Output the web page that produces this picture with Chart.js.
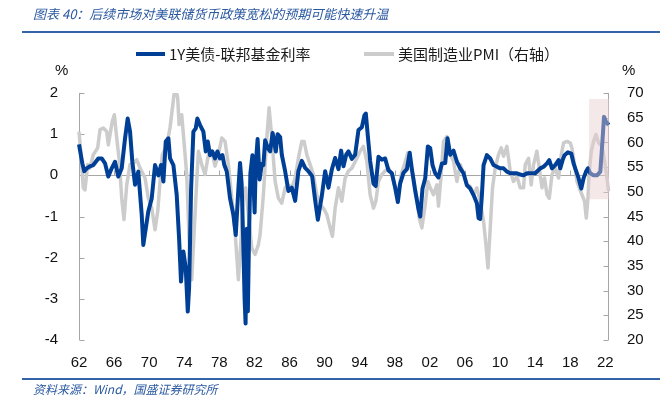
<!DOCTYPE html>
<html>
<head>
<meta charset="utf-8">
<script src="https://cdn.jsdelivr.net/npm/chart.js@4/dist/chart.umd.min.js"></script>
<style>
  html,body{margin:0;padding:0;background:#fff;}
  #wrap{position:relative;width:660px;height:398px;overflow:hidden;}
  canvas{position:absolute;left:0;top:0;}
  .t{position:absolute;white-space:nowrap;font-family:"Noto Sans CJK SC","Noto Sans",sans-serif;}
  #title{left:33px;top:4px;font-size:13px;font-style:italic;color:#2b59a0;}
  #src{left:33px;top:380px;font-size:12px;font-style:italic;color:#2b59a0;}
  .hr{position:absolute;left:22px;width:638px;height:2px;background:#3563a8;}
  .leg{top:43px;font-size:15px;color:#1a1a1a;}
  .sw{position:absolute;height:4px;}
  .pct{font-family:"Liberation Sans",Arial,sans-serif;font-size:15px;color:#111;top:61px;}
</style>
</head>
<body>
<div id="wrap">
  <canvas id="c" width="660" height="398"></canvas>
  <div class="t" id="title">图表 40：后续市场对美联储货币政策宽松的预期可能快速升温</div>
  <div class="hr" style="top:31px"></div>
  <div class="sw" style="left:136px;top:52px;width:29px;background:#003f96"></div>
  <div class="t leg" style="left:169px">1Y美债-联邦基金利率</div>
  <div class="sw" style="left:364px;top:52px;width:30px;background:#cccccc"></div>
  <div class="t leg" style="left:398px">美国制造业PMI（右轴）</div>
  <div class="t pct" style="left:55px">%</div>
  <div class="t pct" style="left:622px">%</div>
  <div class="hr" style="top:378px"></div>
  <div class="t" id="src">资料来源：Wind，国盛证券研究所</div>
</div>
<script>
// ---- data (decimal years) ----
const spreadDates = [
  1962.00,1962.38,1962.60,1962.88,1963.25,1963.63,1964.20,1964.59,1964.97,1965.34,1965.73,1966.11,1966.48,1966.87,1967.25,1967.55,1967.82,1968.08,1968.39,1968.76,1969.15,1969.33,1969.61,1969.90,
  1970.29,1970.67,1971.05,1971.35,1971.62,1971.89,1972.19,1972.38,1972.76,1973.14,1973.41,1973.63,1973.90,1974.17,1974.40,1974.55,1974.78,1975.04,1975.31,1975.49,1975.80,1976.18,1976.45,1976.68,1976.94,1977.20,1977.51,1977.78,1978.08,1978.35,1978.57,1978.85,1979.22,1979.60,1979.87,
  1980.17,1980.36,1980.54,1980.71,1980.88,1980.99,1981.13,1981.25,1981.39,1981.54,1981.77,1982.02,1982.15,1982.36,1982.59,1982.84,1983.02,1983.22,1983.56,1983.79,1984.07,1984.44,1984.64,1984.93,1985.12,1985.50,1985.87,1986.26,1986.64,1987.01,1987.40,1987.78,1988.15,1988.58,1988.92,1989.23,1989.68,
  1990.06,1990.44,1990.82,1991.20,1991.58,1991.88,1992.15,1992.46,1992.72,1993.11,1993.48,1993.86,1994.25,1994.54,1994.70,1994.93,1995.19,1995.57,1995.82,1996.14,1996.53,1996.90,1997.28,1997.67,1998.04,1998.35,1998.61,1998.99,1999.38,1999.70,1999.95,
  2000.33,2000.70,2000.90,2001.16,2001.47,2001.77,2002.04,2002.30,2002.61,2002.98,2003.37,2003.75,2004.01,2004.32,2004.69,2005.08,2005.46,2005.83,2006.22,2006.60,2006.98,2007.36,2007.55,2007.74,2007.93,2008.12,2008.50,2008.88,2009.26,2009.64,
  2010.02,2010.40,2010.78,2011.16,2011.93,2012.30,2012.68,2013.07,2013.44,2014.01,2014.58,2014.96,2015.35,2015.61,2015.92,2016.29,2016.67,2016.86,2017.13,2017.35,2017.74,2018.12,2018.38,2018.57,2018.95,2019.26,2019.52,2019.80,
  2020.02,2020.29,2020.66,2021.05,2021.43,2021.62,2021.85,2022.08,2022.38
];
const spreadValues = [
  0.75,0.29,0.10,0.17,0.22,0.25,0.41,0.41,0.29,-0.03,0.17,0.33,-0.03,0.17,0.90,1.38,1.06,0.33,-0.23,0.09,-0.96,-1.69,-1.29,-0.88,
  -0.56,0.25,0.00,0.25,-0.15,0.82,0.90,0.41,0.25,-0.48,-1.53,-2.58,-1.85,-2.26,-3.31,-2.74,-0.32,1.06,1.14,1.38,1.22,1.06,0.58,0.82,0.49,0.58,0.41,0.58,0.41,0.49,0.25,0.09,-0.56,-0.96,-1.45,
  -0.32,0.30,-0.20,-1.50,-3.00,-3.60,-1.30,-3.30,-1.40,0.05,0.49,-0.90,0.25,0.88,-0.10,0.28,0.25,0.85,0.65,0.58,1.03,0.58,1.00,0.93,0.50,0.10,-0.38,-0.30,-0.62,0.10,0.35,0.18,0.10,-0.02,-0.60,-1.08,-0.50,
  0.10,-0.30,0.14,0.42,0.15,0.60,0.22,0.50,0.58,0.40,0.50,1.10,1.17,1.46,1.50,0.95,0.35,-0.20,-0.26,0.45,0.38,0.41,0.12,0.05,-0.30,-0.65,-0.20,0.06,0.15,0.55,0.15,
  -0.38,-0.82,-1.00,-0.32,-0.07,0.70,0.66,0.25,0.05,-0.05,0.29,0.30,0.90,0.50,0.60,0.33,0.17,0.05,-0.24,-0.32,-0.48,-0.68,-1.04,-1.06,-0.48,0.25,0.49,0.41,0.25,0.21,
  0.17,0.17,0.09,0.05,0.05,0.02,0.00,0.05,0.05,0.05,0.17,0.21,0.29,0.37,0.17,0.25,0.37,0.17,0.37,0.49,0.56,0.53,0.29,0.17,-0.07,-0.32,-0.07,0.09,
  0.17,0.05,0.00,0.00,0.09,0.66,1.42,1.30,1.22
];
const pmiDates = [
  1962.00,1962.23,1962.49,1962.68,1962.99,1963.25,1963.63,1964.13,1964.40,1964.77,1965.16,1965.34,1965.80,1966.03,1966.30,1966.60,1966.87,1967.13,1967.44,1967.82,1968.19,1968.58,1968.96,1969.53,1969.90,
  1970.29,1970.67,1970.98,1971.24,1971.50,1971.89,1972.19,1972.38,1972.76,1972.95,1973.25,1973.41,1973.71,1973.90,1974.28,1974.55,1974.85,1975.15,1975.42,1975.61,1975.99,1976.37,1976.75,1977.14,1977.51,1977.89,1978.28,1978.65,1979.03,1979.42,1979.79,
  1980.17,1980.48,1980.74,1981.01,1981.31,1981.70,1982.07,1982.45,1982.64,1983.02,1983.41,1983.67,1983.98,1984.36,1984.73,1985.12,1985.50,1985.87,1986.26,1986.64,1987.01,1987.40,1987.66,1987.97,1988.35,1988.72,1989.11,1989.49,1989.86,
  1990.25,1990.63,1990.89,1991.20,1991.58,1991.96,1992.34,1992.72,1993.11,1993.68,1994.05,1994.43,1994.81,1995.19,1995.57,1995.84,1996.14,1996.53,1996.90,1997.28,1997.67,1998.04,1998.35,1998.73,1999.10,1999.49,1999.75,
  2000.13,2000.52,2000.78,2001.09,2001.47,2001.77,2002.04,2002.41,2002.80,2002.98,2003.29,2003.55,2003.94,2004.32,2004.69,2005.08,2005.46,2005.83,2006.22,2006.60,2006.98,2007.36,2007.74,2008.12,2008.39,2008.62,2008.88,2009.14,2009.45,2009.82,
  2010.13,2010.40,2010.78,2011.16,2011.53,2011.93,2012.30,2012.68,2012.87,2013.25,2013.55,2013.82,2014.20,2014.47,2014.78,2015.07,2015.35,2015.61,2015.92,2016.29,2016.67,2016.98,2017.24,2017.63,2018.00,2018.19,2018.49,2018.77,2019.03,2019.34,2019.63,2019.83,
  2020.02,2020.17,2020.40,2020.66,2020.93,2021.23,2021.62,2021.92,2022.19,2022.37
];
const pmiValues = [
  62.2,57.5,50.8,50.4,55.5,54.8,57.5,58.9,62.6,62.9,62.2,59.5,64.3,65.6,60.9,56.2,48.7,44.4,51.4,55.5,55.8,56.5,54.8,52.8,48.7,
  46.7,42.3,46.1,52.1,57.5,58.9,61.2,63.0,68.6,71.5,69.0,63.6,65.6,61.6,53.5,40.6,32.2,42.7,52.1,58.2,55.5,53.5,57.5,58.2,55.2,57.5,60.9,60.2,55.5,48.7,42.0,
  32.2,40.6,49.4,50.8,45.4,38.6,37.3,39.3,41.3,49.4,60.9,67.0,60.9,52.1,48.7,47.7,50.8,51.4,50.8,52.8,56.8,60.2,60.2,57.5,55.5,53.5,49.4,47.4,46.7,
  45.4,42.7,41.0,46.7,50.8,48.1,52.8,54.2,54.8,56.8,58.2,59.2,56.2,49.4,46.7,48.1,52.1,53.5,54.2,54.8,53.5,50.8,49.4,53.5,55.5,57.9,56.2,
  52.8,48.7,44.7,42.7,47.4,52.1,50.8,49.4,51.4,47.1,53.5,60.2,61.2,57.5,56.2,52.1,55.5,53.8,51.4,51.1,49.4,50.8,48.1,44.0,39.3,34.6,42.7,50.8,54.8,57.5,
  58.9,57.2,59.2,54.2,52.1,53.1,50.8,50.8,55.5,56.8,51.4,55.5,58.2,54.8,50.8,52.8,49.4,48.7,53.5,54.8,52.8,57.5,59.9,60.2,59.9,58.9,55.5,52.1,50.8,49.4,48.1,44.7,
  48.7,54.2,58.2,60.2,61.6,59.9,59.2,56.2,52.8,50.1
];
const tickYears  = [1962,1966,1970,1974,1978,1982,1986,1990,1994,1998,2002,2006,2010,2014,2018,2022];
const tickLabels = ['62','66','70','74','78','82','86','90','94','98','02','06','10','14','18','22'];
const seriesNames = ['1Y美债-联邦基金利率','美国制造业PMI（右轴）'];
const shadeYears = [2020.15, 2022.42];   // highlighted period
const shadePmi   = [48.5, 68.8];         // its vertical extent on the right axis

const xMin = 1962, xMax = 2022.42;

const decor = {
  id: 'decor',
  beforeDatasetsDraw(chart) {
    const {ctx, chartArea: a, scales: {x, y, y2}} = chart;
    ctx.save();
    ctx.strokeStyle = '#a6a6a6';
    ctx.lineWidth = 1;
    ctx.beginPath();
    const lx = Math.round(a.left) + 0.5;
    ctx.moveTo(lx, a.top); ctx.lineTo(lx, a.bottom);
    y.ticks.forEach(t => { const p = Math.round(y.getPixelForValue(t.value)) + 0.5; ctx.moveTo(lx, p); ctx.lineTo(lx + 5, p); });
    const rx = Math.round(a.right) - 0.5;
    ctx.moveTo(rx, a.top); ctx.lineTo(rx, a.bottom);
    y2.ticks.forEach(t => { const p = Math.round(y2.getPixelForValue(t.value)) + 0.5; ctx.moveTo(rx, p); ctx.lineTo(rx - 5, p); });
    const zy = Math.round(y.getPixelForValue(0)) + 0.5;
    ctx.moveTo(a.left, zy); ctx.lineTo(a.right, zy);
    x.ticks.forEach(t => { const p = Math.round(x.getPixelForValue(t.value)) + 0.5; ctx.moveTo(p, zy); ctx.lineTo(p, zy - 5); });
    ctx.stroke();
    ctx.restore();
  },
  afterDatasetsDraw(chart) {
    const {ctx, scales: {x, y2}} = chart;
    const x0 = x.getPixelForValue(shadeYears[0]), x1 = x.getPixelForValue(shadeYears[1]);
    const yT = y2.getPixelForValue(shadePmi[1]), yB = y2.getPixelForValue(shadePmi[0]);
    ctx.save();
    ctx.fillStyle = 'rgba(232,204,204,0.45)';
    ctx.fillRect(x0, yT, x1 - x0, yB - yT);
    ctx.restore();
  }
};

const tickFont = {family: '"Liberation Sans", Arial, sans-serif', size: 15};

new Chart(document.getElementById('c'), {
  type: 'line',
  data: {
    datasets: [
      {
        label: seriesNames[0],
        data: spreadDates.map((d, i) => ({x: d, y: spreadValues[i]})),
        yAxisID: 'y',
        borderColor: '#003f96',
        borderWidth: 4,
        pointRadius: 0,
        tension: 0,
        borderJoinStyle: 'round',
        clip: {left: 2, right: 2, top: 0, bottom: 2}
      },
      {
        label: seriesNames[1],
        data: pmiDates.map((d, i) => ({x: d, y: pmiValues[i]})),
        yAxisID: 'y2',
        borderColor: '#cccccc',
        borderWidth: 3.5,
        pointRadius: 0,
        tension: 0,
        borderJoinStyle: 'round',
        clip: {left: 2, right: 2, top: 0, bottom: 2}
      }
    ]
  },
  options: {
    responsive: false,
    animation: false,
    devicePixelRatio: 1,
    layout: {padding: {left: 0, right: 0, top: 93, bottom: 0}},
    plugins: {legend: {display: false}, tooltip: {enabled: false}},
    scales: {
      x: {
        type: 'linear', min: xMin, max: xMax,
        grid: {display: false}, border: {display: false},
        afterBuildTicks: s => { s.ticks = tickYears.map(v => ({value: v})); },
        afterFit: s => { s.height = 58; },
        ticks: {
          autoSkip: false, maxRotation: 0, padding: 6, color: '#111', font: tickFont,
          callback: v => { const i = tickYears.indexOf(v); return i >= 0 ? tickLabels[i] : ''; }
        }
      },
      y: {
        position: 'left', min: -4, max: 2,
        grid: {display: false}, border: {display: false},
        afterFit: s => { s.width = 79; },
        ticks: {stepSize: 1, padding: 13, color: '#111', font: tickFont}
      },
      y2: {
        position: 'right', min: 20, max: 70,
        grid: {display: false}, border: {display: false},
        afterFit: s => { s.width = 51; },
        ticks: {stepSize: 5, padding: 10, color: '#111', font: tickFont}
      }
    }
  },
  plugins: [decor]
});
</script>
</body>
</html>
